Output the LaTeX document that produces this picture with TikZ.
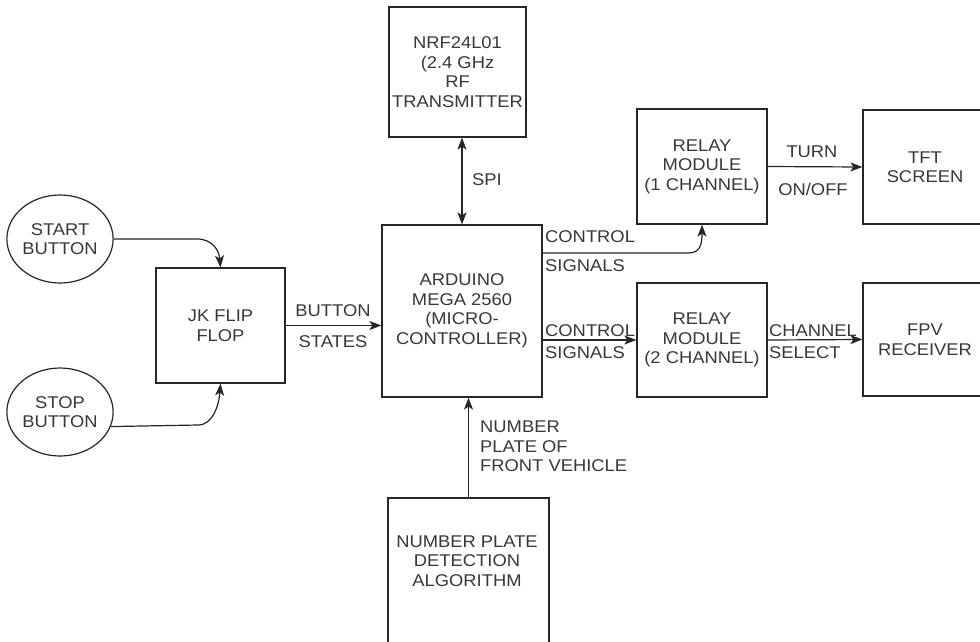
\documentclass[tikz,border=0pt]{standalone}
\usepackage{fontspec}
\setmainfont[FakeStretch=1.08]{Liberation Sans}
\usetikzlibrary{arrows.meta,shapes.geometric}
\newcommand\dfont{\fontsize{17}{19.5}\selectfont}
\begin{document}
\begin{tikzpicture}[x=1pt,y=-1pt,
  box/.style={draw=black!85, line width=1.2pt, rectangle, inner sep=0pt, align=center, text=black!78, font=\dfont},
  circ/.style={draw=black!85, line width=1.2pt, ellipse, minimum width=96pt, minimum height=88pt, inner sep=0pt, align=center, text=black!78, font=\dfont},
  lbl/.style={inner sep=0pt, text=black!78, font=\dfont, align=left},
  arr/.style={draw=black!85, line width=1.2pt, -{Stealth[length=12pt,width=9pt,inset=3pt]}},
  darr/.style={draw=black!85, line width=1.2pt, {Stealth[length=12pt,width=9pt,inset=3pt]}-{Stealth[length=12pt,width=9pt,inset=3pt]}}]
\useasboundingbox (0,0) rectangle (980,641);
\clip (0,0) rectangle (980,641);
\fill[white] (0,0) rectangle (980,641);

\node[box, minimum width=137pt, minimum height=130pt] (nrf) at (457.5,72) {NRF24L01\\(2.4 GHz\\RF\\TRANSMITTER};
\node[box, minimum width=160pt, minimum height=172pt] (ard) at (462,311) {ARDUINO\\MEGA 2560\\(MICRO-\\CONTROLLER)};
\node[box, minimum width=129pt, minimum height=115pt] (jk) at (220.5,325.5) {JK FLIP\\FLOP};
\node[box, minimum width=130pt, minimum height=115pt] (r1) at (702,166.5) {RELAY\\MODULE\\(1 CHANNEL)};
\node[box, minimum width=124pt, minimum height=114pt] (tft) at (925,167) {TFT\\SCREEN};
\node[box, minimum width=130pt, minimum height=114pt] (r2) at (702,340) {RELAY\\MODULE\\(2 CHANNEL)};
\node[box, minimum width=124pt, minimum height=113pt] (fpv) at (925,339.5) {FPV\\RECEIVER};
\node[box, minimum width=161pt, minimum height=190pt] (npd) at (468.5,593) {};
\node[lbl, align=center] (npdtext) at (467,561) {NUMBER PLATE\\DETECTION\\ALGORITHM};

\node[circ] (start) at (60,239) {START\\BUTTON};
\node[circ] (stop) at (60,412) {STOP\\BUTTON};

% connectors
\draw[arr] (start.east) -- (197,239) .. controls (212,239) and (219,250) .. (jk.north);
\draw[arr] (stop.-16) -- (198,425) .. controls (213,425) and (219,405) .. (jk.south);
\draw[arr] (jk.east) -- (ard.west |- jk.east);
\draw[darr] (ard.north |- nrf.south) -- (ard.north);
\draw[arr] ([yshift=58pt]ard.east) -- (688,253) .. controls (700,253) and (702,245) .. (r1.south);
\draw[arr] (ard.east |- r2.west) -- (r2.west);
\draw[arr] (r1.east) -- (tft.west);
\draw[arr] (r2.east) -- (fpv.west);
\draw[arr] (npd.north) -- (ard.south -| npd.north);

% labels
\node[lbl] (lbtn) at (333,311) {BUTTON};
\node[lbl] (lsta) at (333,342) {STATES};
\node[lbl] (lspi) at (487,180) {SPI};
\node[lbl, anchor=west] (lc1a) at (545,237) {CONTROL};
\node[lbl, anchor=west] (lc1b) at (545,266) {SIGNALS};
\node[lbl, anchor=west] (lc2a) at (545,331) {CONTROL};
\node[lbl, anchor=west] (lc2b) at (545,353) {SIGNALS};
\node[lbl] (lturn) at (812,152) {TURN};
\node[lbl] (lonoff) at (813,189) {ON/OFF};
\node[lbl, anchor=west] (lch) at (769,331) {CHANNEL};
\node[lbl, anchor=west] (lsel) at (769,353) {SELECT};
\node[lbl, anchor=north west] (lnum) at (480,421) {NUMBER\\PLATE OF\\FRONT VEHICLE};
\end{tikzpicture}
\end{document}
